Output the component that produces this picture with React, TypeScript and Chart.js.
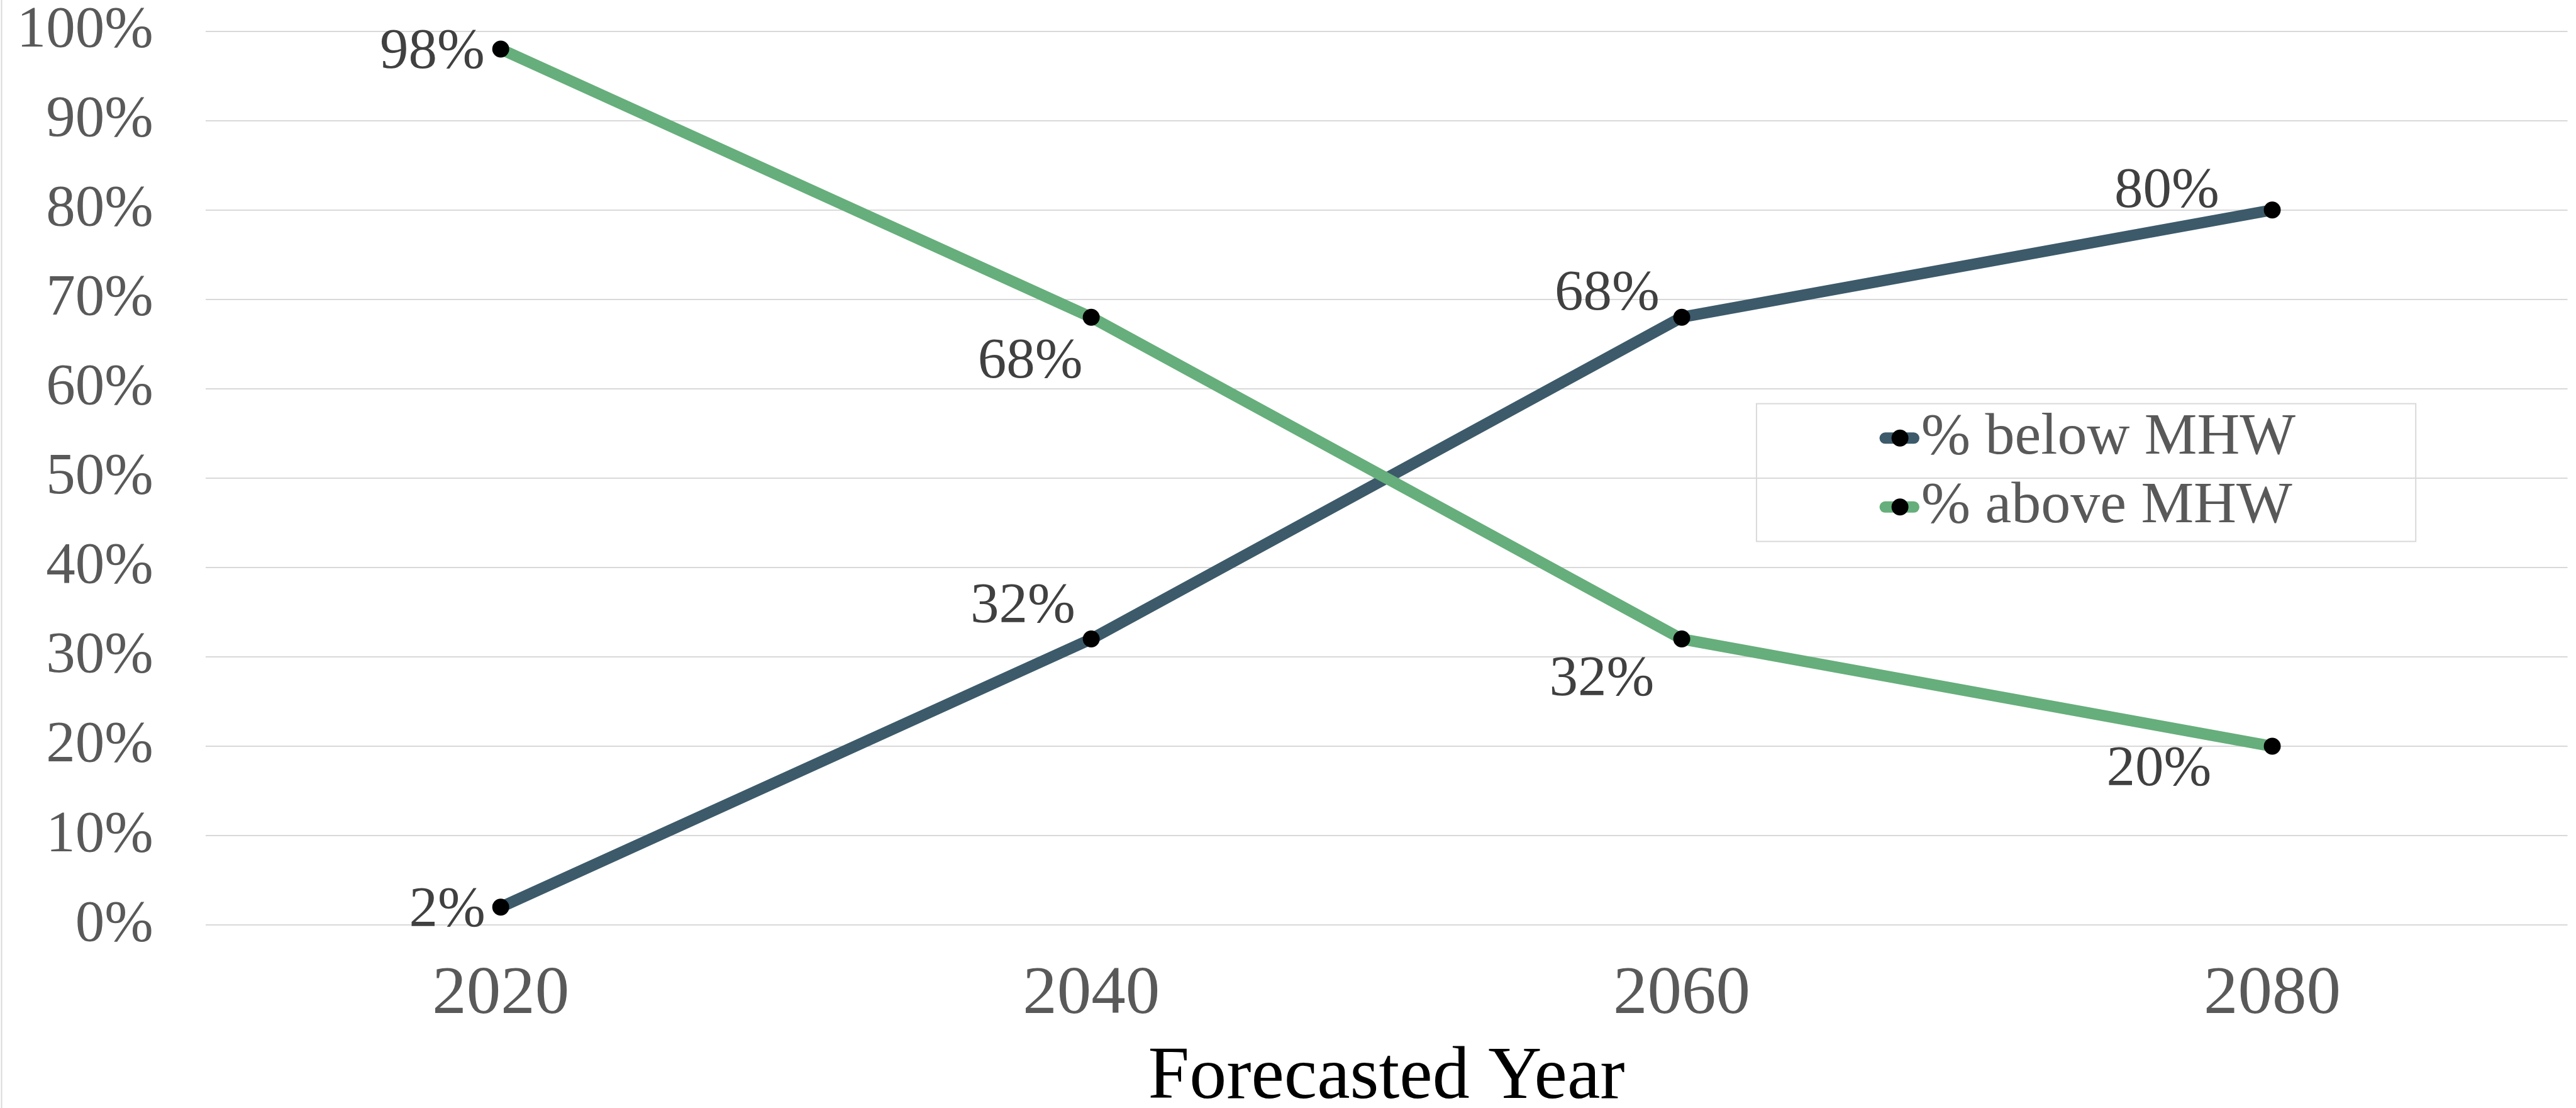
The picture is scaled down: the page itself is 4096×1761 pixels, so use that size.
import React, { useEffect, useRef } from "react";
import { Chart, registerables } from "chart.js";

Chart.register(...registerables);

// ---- data ----
const categories = ["2020", "2040", "2060", "2080"];
const seriesNames = ["% below MHW", "% above MHW"];
const belowMHW = [2, 32, 68, 80];
const aboveMHW = [98, 68, 32, 20];
const yMin = 0;
const yMax = 100;
const yStep = 10;
const xTitle = "Forecasted Year";

// ---- style ----
const S = 0.842; // scale from reference pixels
const W = 4096;
const H = 1761;
const FONT = '"Liberation Serif", "Times New Roman", serif';
const BLUE = "#3c5a6a";
const GREEN = "#66ae7b";
const GRID = "#d9d9d9";
const TICK = "#595959";
const LABEL = "#404040";

// data-label offsets (reference px): [dx of right edge, dy of baseline] from point
const belowOffsets = [
  [-29, 36],
  [-30, -31],
  [-42, -14],
  [-100, -6],
];
const aboveOffsets = [
  [-30, 35],
  [-16, 114],
  [-52, 106],
  [-115, 74],
];

const framePlugin = {
  id: "frame",
  beforeDraw(chart: any) {
    const ctx = chart.ctx;
    ctx.save();
    ctx.fillStyle = "#ffffff";
    ctx.fillRect(0, 0, chart.width, chart.height);
    ctx.strokeStyle = GRID;
    ctx.lineWidth = 2;
    ctx.beginPath();
    ctx.moveTo(2.5, 0);
    ctx.lineTo(2.5, chart.height);
    ctx.stroke();
    ctx.restore();
  },
};

const labelPlugin = {
  id: "pointLabels",
  afterDatasetsDraw(chart: any) {
    const ctx = chart.ctx;
    const offs = [belowOffsets, aboveOffsets];
    ctx.save();
    ctx.font = `${Math.round(108 * S)}px ${FONT}`;
    ctx.fillStyle = LABEL;
    ctx.textAlign = "right";
    ctx.textBaseline = "alphabetic";
    chart.data.datasets.forEach((ds: any, di: number) => {
      const meta = chart.getDatasetMeta(di);
      meta.data.forEach((pt: any, i: number) => {
        const [dx, dy] = offs[di][i];
        ctx.fillText(ds.data[i] + "%", pt.x + dx * S, pt.y + dy * S);
      });
    });
    ctx.restore();
  },
};

const legendPlugin = {
  id: "boxLegend",
  afterDraw(chart: any) {
    const ctx = chart.ctx;
    const x0 = 3317 * S,
      y0 = 762 * S,
      x1 = 4562 * S,
      y1 = 1022 * S;
    ctx.save();
    ctx.strokeStyle = GRID;
    ctx.lineWidth = 2;
    ctx.strokeRect(x0, y0, x1 - x0, y1 - y0);
    const rows = [827 * S, 957 * S];
    ctx.font = `${Math.round(112 * S)}px ${FONT}`;
    ctx.textAlign = "left";
    ctx.textBaseline = "middle";
    chart.data.datasets.forEach((ds: any, di: number) => {
      const y = rows[di];
      ctx.strokeStyle = ds.borderColor;
      ctx.lineWidth = ds.borderWidth;
      ctx.lineCap = "round";
      ctx.beginPath();
      ctx.moveTo(3560 * S, y);
      ctx.lineTo(3614 * S, y);
      ctx.stroke();
      ctx.fillStyle = "#000000";
      ctx.beginPath();
      ctx.arc(3588 * S, y, ds.pointRadius, 0, Math.PI * 2);
      ctx.fill();
      ctx.fillStyle = TICK;
      ctx.fillText(ds.label, 3628 * S, y);
    });
    ctx.restore();
  },
};

export default function App() {
  const ref = useRef<HTMLCanvasElement | null>(null);

  useEffect(() => {
    if (!ref.current) return;
    const chart = new Chart(ref.current, {
      type: "line",
      data: {
        labels: categories,
        datasets: [
          {
            label: seriesNames[0],
            data: belowMHW,
            borderColor: BLUE,
            backgroundColor: BLUE,
            borderWidth: Math.round(21 * S),
            tension: 0,
            pointRadius: 16 * S,
            pointBackgroundColor: "#000000",
            pointBorderWidth: 0,
            pointHoverRadius: 16 * S,
            borderJoinStyle: "round",
            order: 1,
          },
          {
            label: seriesNames[1],
            data: aboveMHW,
            borderColor: GREEN,
            backgroundColor: GREEN,
            borderWidth: Math.round(21 * S),
            tension: 0,
            pointRadius: 16 * S,
            pointBackgroundColor: "#000000",
            pointBorderWidth: 0,
            pointHoverRadius: 16 * S,
            borderJoinStyle: "round",
            order: 0,
          },
        ],
      },
      options: {
        animation: false,
        responsive: false,
        maintainAspectRatio: false,
        events: [],
        layout: {
          padding: { left: 0, right: W - 4855 * S, top: 59 * S, bottom: 0 },
        },
        plugins: {
          legend: { display: false },
          tooltip: { enabled: false },
        },
        scales: {
          x: {
            type: "category",
            offset: true,
            grid: { display: false, drawTicks: false },
            border: { display: false },
            ticks: {
              color: TICK,
              font: { family: FONT, size: Math.round(130 * S), lineHeight: 1.2 },
              padding: 46,
              maxRotation: 0,
              autoSkip: false,
            },
            title: {
              display: true,
              text: xTitle,
              color: "#000000",
              font: { family: FONT, size: Math.round(140 * S), lineHeight: 0.8 },
              padding: { top: 0, bottom: 0 },
            },
            afterFit: (s: any) => {
              s.height = H - 1746 * S;
            },
          },
          y: {
            min: yMin,
            max: yMax,
            grid: {
              color: GRID,
              lineWidth: 2,
              drawTicks: true,
              tickLength: Math.round(388 * S - 289 * S),
              tickColor: "rgba(0,0,0,0)",
            },
            border: { display: false },
            ticks: {
              stepSize: yStep,
              color: TICK,
              font: { family: FONT, size: Math.round(110 * S), lineHeight: 1.0 },
              padding: 0,
              callback: (v: any) => v + "%",
            },
            afterFit: (s: any) => {
              s.width = 388 * S;
            },
          },
        },
      },
      plugins: [framePlugin, labelPlugin, legendPlugin],
    } as any);
    return () => chart.destroy();
  }, []);

  return (
    <div style={{ position: "fixed", left: 0, top: 0, width: W, height: H, background: "#fff" }}>
      <canvas ref={ref} width={W} height={H} style={{ display: "block", width: W, height: H }} />
    </div>
  );
}
